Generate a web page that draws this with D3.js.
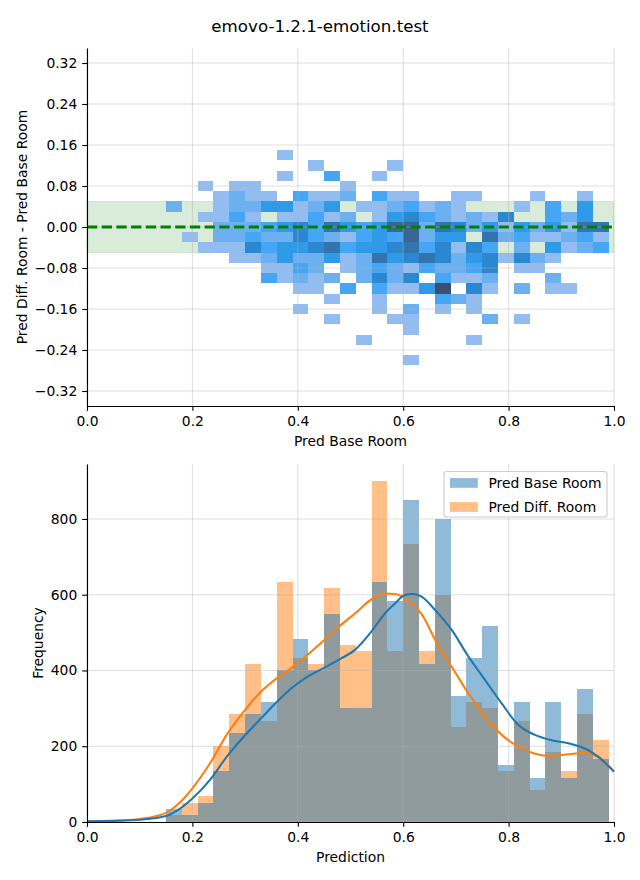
<!DOCTYPE html>
<html><head><meta charset="utf-8">
<script src="https://cdn.jsdelivr.net/npm/d3@7"></script>
<style>body{margin:0;background:#fff} svg{display:block} text{font-family:"DejaVu Sans",sans-serif}</style>
</head><body><svg id="c" width="640" height="880"></svg>
<script>
// ---------------- data ----------------
const title = "emovo-1.2.1-emotion.test";
const xTicks = [0, 0.2, 0.4, 0.6, 0.8, 1.0];
const topYTicks = [-0.32, -0.24, -0.16, -0.08, 0, 0.08, 0.16, 0.24, 0.32];
const bottomYTicks = [0, 200, 400, 600, 800];
const seriesNames = ["Pred Base Room", "Pred Diff. Room"];
const xEdges = [0.15,0.18,0.21,0.24,0.27,0.30,0.33,0.36,0.39,0.42,0.45,0.48,0.51,0.54,0.57,0.60,0.63,0.66,0.69,0.72,0.75,0.78,0.81,0.84,0.87,0.90,0.93,0.96,0.99];
const yEdges = [-0.27,-0.25,-0.23,-0.21,-0.19,-0.17,-0.15,-0.13,-0.11,-0.09,-0.07,-0.05,-0.03,-0.01,0.01,0.03,0.05,0.07,0.09,0.11,0.13,0.15];
// 2D histogram counts, rows from top (0.13..0.15) to bottom (-0.27..-0.25)
const heatCounts = [
 [0,0,0,0,0,0,0,1,0,0,0,0,0,0,0,0,0,0,0,0,0,0,0,0,0,0,0,0],
 [0,0,0,0,0,0,0,0,0,1,0,0,0,0,1,0,0,0,0,0,0,0,0,0,0,0,0,0],
 [0,0,0,0,0,0,0,1,0,0,3,0,0,1,0,0,0,0,0,0,0,0,0,0,0,0,0,0],
 [0,0,1,0,1,1,0,0,0,0,0,1,0,0,0,0,0,0,0,0,0,0,0,0,0,0,0,0],
 [0,0,0,1,2,1,1,0,3,1,1,2,0,3,1,1,0,0,1,1,0,0,0,1,0,0,1,0],
 [2,0,0,1,2,2,4,4,1,2,4,0,1,1,2,3,1,2,1,0,0,0,1,0,3,0,4,0],
 [0,0,1,1,3,1,0,1,1,3,1,2,0,1,4,5,3,2,1,2,1,5,0,0,3,2,4,0],
 [0,0,0,2,2,2,3,4,5,3,7,4,3,4,8,8,2,7,5,2,4,1,4,2,4,1,7,7],
 [0,1,0,2,2,3,2,2,5,3,2,1,3,4,3,8,2,4,4,0,7,2,3,1,1,2,3,1],
 [0,0,1,1,1,5,3,4,4,5,7,3,4,4,5,7,3,5,1,5,3,0,2,0,4,1,2,3],
 [0,0,0,0,1,1,2,4,2,2,4,1,2,7,4,5,7,5,2,4,5,1,5,2,1,0,0,0],
 [0,0,0,0,0,0,1,1,3,2,0,1,2,3,2,1,3,2,2,3,5,0,1,1,0,0,0,0],
 [0,0,0,0,0,0,3,1,2,1,2,0,2,5,2,5,0,3,1,1,2,0,0,0,2,0,0,0],
 [0,0,0,0,0,0,0,0,1,1,0,3,0,3,1,1,4,10,0,5,1,0,2,0,1,1,0,0],
 [0,0,0,0,0,0,0,0,0,0,1,0,0,1,0,0,0,3,2,1,0,0,0,0,0,0,0,0],
 [0,0,0,0,0,0,0,0,1,0,0,0,0,1,0,2,0,1,0,1,0,0,0,0,0,0,0,0],
 [0,0,0,0,0,0,0,0,0,0,1,0,0,0,1,1,0,0,0,0,2,0,1,0,0,0,0,0],
 [0,0,0,0,0,0,0,0,0,0,0,0,0,0,0,1,0,0,0,0,0,0,0,0,0,0,0,0],
 [0,0,0,0,0,0,0,0,0,0,0,0,1,0,0,0,0,0,0,1,0,0,0,0,0,0,0,0],
 [0,0,0,0,0,0,0,0,0,0,0,0,0,0,0,0,0,0,0,0,0,0,0,0,0,0,0,0],
 [0,0,0,0,0,0,0,0,0,0,0,0,0,0,0,1,0,0,0,0,0,0,0,0,0,0,0,0]
];
const bandLow = -0.05, bandHigh = 0.05;
const histBase = [33,18,50,135,235,285,317,400,483,400,549,301,301,634,583,850,417,800,333,433,517,150,317,116,317,116,350,166];
const histDiff = [18,51,68,200,285,417,267,634,433,417,618,467,451,900,451,734,451,598,251,317,301,135,267,84,185,135,285,216];
const kdeX    = [0,0.05,0.1,0.15,0.175,0.2,0.2334,0.265,0.30,0.33,0.36,0.3915,0.42,0.45,0.48,0.509,0.54,0.5655,0.5844,0.6034,0.6192,0.635,0.6603,0.692,0.7236,0.7552,0.7869,0.8185,0.8501,0.8817,0.9134,0.945,0.9703,1.0];
const kdeBase = [2,3,6,16,34,62,111,172,229,273,317,357,385,407,430,455,503,551,577,599,602,595,560,507,437,375,313,256,230,216,208,194,172,133];
const kdeDiff = [1,3,8,24,50,89,155,230,296,344,379,410,443,480,518,551,588,603,602,591,572,549,482,410,340,278,230,199,180,174,179,182,172,133];

// ---------------- layout ----------------
const svg = d3.select("#c");
const FS = 13.89;
const topBox = {l:87, r:614, t:48, b:406};
const botBox = {l:87, r:614, t:464, b:822};
const xTop = d3.scaleLinear().domain([0,1]).range([topBox.l, topBox.r]);
const yTop = d3.scaleLinear().domain([-0.3493,0.3493]).range([topBox.b, topBox.t]);
const xBot = d3.scaleLinear().domain([0,1]).range([botBox.l, botBox.r]);
const yBot = d3.scaleLinear().domain([0,945]).range([botBox.b, botBox.t]);
const blue = "#1f77b4", orange = "#ff7f0e";
const heatColor = d3.scaleLinear()
  .domain([1,2,3,4,5,7,8,10])
  .range(["#93bcf0","#6cb0f0","#45a6f5","#2e9ae8","#2b88d0","#3474ad","#3a6494","#3d4f6c"])
  .interpolate(d3.interpolateLab).clamp(true);

svg.append("text").attr("x",320).attr("y",32).attr("text-anchor","middle")
  .attr("font-size",16.67).text(title);

function grid(g, x, y, yt) {
  const gg = g.append("g").attr("stroke","#b0b0b0").attr("stroke-opacity",0.42).attr("stroke-width",1.1);
  xTicks.forEach(t => gg.append("line").attr("x1",x(t)).attr("x2",x(t)).attr("y1",y.range()[0]).attr("y2",y.range()[1]));
  yt.forEach(t => gg.append("line").attr("x1",x.range()[0]).attr("x2",x.range()[1]).attr("y1",y(t)).attr("y2",y(t)));
}
function axes(g, x, y, yt, yfmt, box) {
  const ax = g.append("g").attr("transform",`translate(0,${box.b})`)
    .call(d3.axisBottom(x).tickValues(xTicks).tickFormat(d3.format(".1f")).tickSize(4.86).tickPadding(4.86).tickSizeOuter(0));
  const ay = g.append("g").attr("transform",`translate(${box.l},0)`)
    .call(d3.axisLeft(y).tickValues(yt).tickFormat(yfmt).tickSize(4.86).tickPadding(4.86).tickSizeOuter(0));
  [ax, ay].forEach(a => {
    a.selectAll("text").attr("font-size",FS).attr("font-family","DejaVu Sans").attr("fill","#000");
    a.selectAll("line").attr("stroke","#000").attr("stroke-width",1.1);
    a.select(".domain").attr("stroke","#000").attr("stroke-width",1.1);
  });
}

// ---------------- top: 2D histogram ----------------
const gTop = svg.append("g");
gTop.append("rect").attr("x",xTop(0)).attr("width",xTop(1)-xTop(0))
  .attr("y",yTop(bandHigh)).attr("height",yTop(bandLow)-yTop(bandHigh))
  .attr("fill","#008000").attr("fill-opacity",0.15)
  .attr("stroke","#008000").attr("stroke-opacity",0.12).attr("stroke-width",1);
const nRows = heatCounts.length;
const cells = [];
heatCounts.forEach((row, i) => {
  const yi = nRows - 1 - i;
  row.forEach((c, j) => { if (c > 0) cells.push({x0:xEdges[j], x1:xEdges[j+1], y0:yEdges[yi], y1:yEdges[yi+1], c}); });
});
gTop.append("g").attr("shape-rendering","crispEdges").selectAll("rect").data(cells).join("rect")
  .attr("x",d=>xTop(d.x0)).attr("width",d=>xTop(d.x1)-xTop(d.x0))
  .attr("y",d=>yTop(d.y1)).attr("height",d=>yTop(d.y0)-yTop(d.y1))
  .attr("fill",d=>heatColor(d.c));
grid(gTop, xTop, yTop, topYTicks);
gTop.append("line").attr("x1",xTop(0)).attr("x2",xTop(1)).attr("y1",yTop(0)).attr("y2",yTop(0))
  .attr("stroke","#008000").attr("stroke-width",2.78).attr("stroke-dasharray","10.3,4.4");
axes(gTop, xTop, yTop, topYTicks, d3.format(".2f"), topBox);
gTop.append("text").attr("x",(topBox.l+topBox.r)/2).attr("y",446).attr("text-anchor","middle")
  .attr("font-size",FS).text("Pred Base Room");
gTop.append("text").attr("transform",`translate(27,${(topBox.t+topBox.b)/2}) rotate(-90)`)
  .attr("text-anchor","middle").attr("font-size",FS).text("Pred Diff. Room - Pred Base Room");

// ---------------- bottom: histograms + KDE ----------------
const gBot = svg.append("g");
const bars = (vals, color) => gBot.append("g").attr("shape-rendering","crispEdges")
  .selectAll("rect").data(vals).join("rect")
  .attr("x",(d,i)=>xBot(xEdges[i])).attr("width",(d,i)=>xBot(xEdges[i+1])-xBot(xEdges[i]))
  .attr("y",d=>yBot(d)).attr("height",d=>yBot(0)-yBot(d))
  .attr("fill",color).attr("fill-opacity",0.5);
bars(histDiff, orange);
bars(histBase, blue);
grid(gBot, xBot, yBot, bottomYTicks);
const line = vals => d3.line().x((d,i)=>xBot(kdeX[i])).y(d=>yBot(d)).curve(d3.curveMonotoneX)(vals);
gBot.append("path").attr("d",line(kdeDiff)).attr("fill","none").attr("stroke",orange).attr("stroke-width",2.08);
gBot.append("path").attr("d",line(kdeBase)).attr("fill","none").attr("stroke",blue).attr("stroke-width",2.08);
axes(gBot, xBot, yBot, bottomYTicks, d3.format("d"), botBox);
gBot.append("text").attr("x",(botBox.l+botBox.r)/2).attr("y",862).attr("text-anchor","middle")
  .attr("font-size",FS).text("Prediction");
gBot.append("text").attr("transform",`translate(43,${(botBox.t+botBox.b)/2}) rotate(-90)`)
  .attr("text-anchor","middle").attr("font-size",FS).text("Frequency");

// legend
const lg = gBot.append("g");
lg.append("rect").attr("x",444).attr("y",471.5).attr("width",163).attr("height",45.5).attr("rx",2.8)
  .attr("fill","#fff").attr("fill-opacity",0.8).attr("stroke","#cccccc").attr("stroke-width",1.1);
[[seriesNames[0], blue, 483], [seriesNames[1], orange, 507]].forEach(([name, col, cy]) => {
  lg.append("rect").attr("x",450).attr("y",cy-4.9).attr("width",27.8).attr("height",9.7)
    .attr("fill",col).attr("fill-opacity",0.5);
  lg.append("text").attr("x",488.5).attr("y",cy+5).attr("font-size",FS).text(name);
});
</script></body></html>
